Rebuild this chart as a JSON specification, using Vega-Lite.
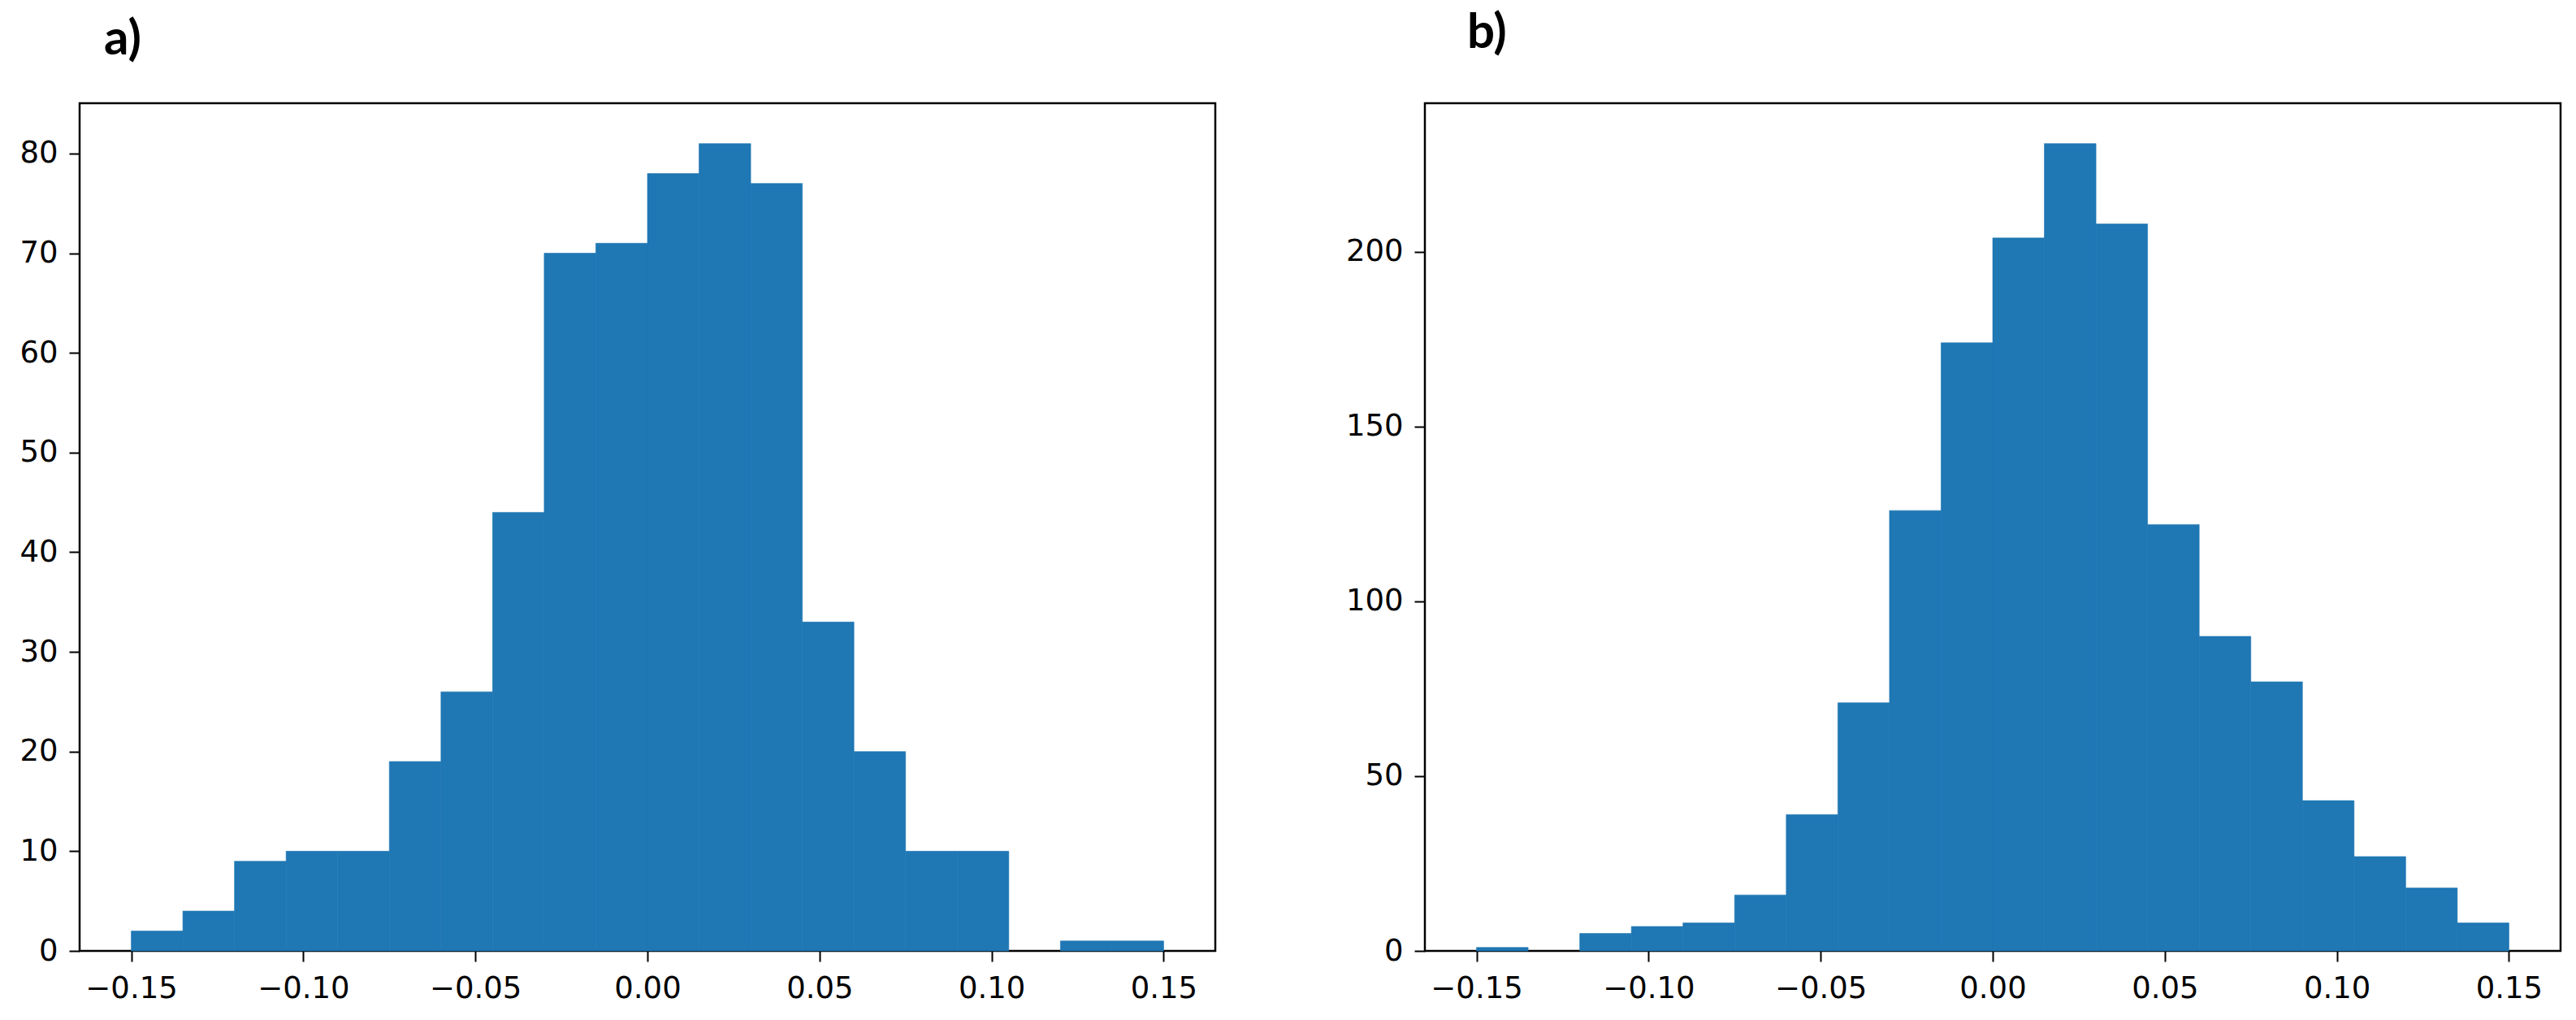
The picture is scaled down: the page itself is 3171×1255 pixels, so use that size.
{
  "$schema": "https://vega.github.io/schema/vega-lite/v6.json",
  "padding": {"left": 22, "top": 9, "right": 21, "bottom": 10},
  "background": "white",
  "bounds": "flush",
  "spacing": 258,
  "config": {
    "view": {"stroke": "#000000", "strokeWidth": 2.5},
    "axis": {
      "domain": false,
      "grid": false,
      "ticks": true,
      "tickColor": "#000000",
      "tickWidth": 2,
      "tickSize": 13,
      "labelFont": "DejaVu Sans",
      "labelFontSize": 37,
      "labelColor": "#000000",
      "title": null
    },
    "axisX": {"labelPadding": 15},
    "axisY": {"labelPadding": 14},
    "title": {"font": "Lato", "fontWeight": "bold", "fontSize": 60, "color": "#000000", "anchor": "start", "frame": "group", "baseline": "alphabetic"}
  },
  "hconcat": [
    {
      "width": 1398,
      "height": 1043,
      "title": {"text": "a)", "dx": 30, "offset": 47},
      "data": {"values": [
        {"bin_start": -0.150, "bin_end": -0.135, "count": 2},
        {"bin_start": -0.135, "bin_end": -0.120, "count": 4},
        {"bin_start": -0.120, "bin_end": -0.105, "count": 9},
        {"bin_start": -0.105, "bin_end": -0.090, "count": 10},
        {"bin_start": -0.090, "bin_end": -0.075, "count": 10},
        {"bin_start": -0.075, "bin_end": -0.060, "count": 19},
        {"bin_start": -0.060, "bin_end": -0.045, "count": 26},
        {"bin_start": -0.045, "bin_end": -0.030, "count": 44},
        {"bin_start": -0.030, "bin_end": -0.015, "count": 70},
        {"bin_start": -0.015, "bin_end": 0.000, "count": 71},
        {"bin_start": 0.000, "bin_end": 0.015, "count": 78},
        {"bin_start": 0.015, "bin_end": 0.030, "count": 81},
        {"bin_start": 0.030, "bin_end": 0.045, "count": 77},
        {"bin_start": 0.045, "bin_end": 0.060, "count": 33},
        {"bin_start": 0.060, "bin_end": 0.075, "count": 20},
        {"bin_start": 0.075, "bin_end": 0.090, "count": 10},
        {"bin_start": 0.090, "bin_end": 0.105, "count": 10},
        {"bin_start": 0.105, "bin_end": 0.120, "count": 0},
        {"bin_start": 0.120, "bin_end": 0.135, "count": 1},
        {"bin_start": 0.135, "bin_end": 0.150, "count": 1}
      ]},
      "mark": {"type": "bar", "color": "#1f77b4", "stroke": "#1f77b4", "strokeWidth": 0.6},
      "encoding": {
        "x": {"field": "bin_start", "type": "quantitative", "scale": {"domain": [-0.165, 0.165], "nice": false, "zero": false}, "axis": {"values": [-0.15, -0.1, -0.05, 0, 0.05, 0.1, 0.15], "format": ".2f"}},
        "x2": {"field": "bin_end"},
        "y": {"field": "count", "type": "quantitative", "scale": {"domain": [0, 85.05], "nice": false}, "axis": {"values": [0, 10, 20, 30, 40, 50, 60, 70, 80]}},
        "y2": {"datum": 0},
        "strokeOpacity": {"condition": {"test": "datum.count > 0", "value": 1}, "value": 0}
      }
    },
    {
      "width": 1398,
      "height": 1043,
      "title": {"text": "b)", "dx": 52, "offset": 55},
      "data": {"values": [
        {"bin_start": -0.150, "bin_end": -0.135, "count": 1},
        {"bin_start": -0.135, "bin_end": -0.120, "count": 0},
        {"bin_start": -0.120, "bin_end": -0.105, "count": 5},
        {"bin_start": -0.105, "bin_end": -0.090, "count": 7},
        {"bin_start": -0.090, "bin_end": -0.075, "count": 8},
        {"bin_start": -0.075, "bin_end": -0.060, "count": 16},
        {"bin_start": -0.060, "bin_end": -0.045, "count": 39},
        {"bin_start": -0.045, "bin_end": -0.030, "count": 71},
        {"bin_start": -0.030, "bin_end": -0.015, "count": 126},
        {"bin_start": -0.015, "bin_end": 0.000, "count": 174},
        {"bin_start": 0.000, "bin_end": 0.015, "count": 204},
        {"bin_start": 0.015, "bin_end": 0.030, "count": 231},
        {"bin_start": 0.030, "bin_end": 0.045, "count": 208},
        {"bin_start": 0.045, "bin_end": 0.060, "count": 122},
        {"bin_start": 0.060, "bin_end": 0.075, "count": 90},
        {"bin_start": 0.075, "bin_end": 0.090, "count": 77},
        {"bin_start": 0.090, "bin_end": 0.105, "count": 43},
        {"bin_start": 0.105, "bin_end": 0.120, "count": 27},
        {"bin_start": 0.120, "bin_end": 0.135, "count": 18},
        {"bin_start": 0.135, "bin_end": 0.150, "count": 8}
      ]},
      "mark": {"type": "bar", "color": "#1f77b4", "stroke": "#1f77b4", "strokeWidth": 0.6},
      "encoding": {
        "x": {"field": "bin_start", "type": "quantitative", "scale": {"domain": [-0.165, 0.165], "nice": false, "zero": false}, "axis": {"values": [-0.15, -0.1, -0.05, 0, 0.05, 0.1, 0.15], "format": ".2f"}},
        "x2": {"field": "bin_end"},
        "y": {"field": "count", "type": "quantitative", "scale": {"domain": [0, 242.55], "nice": false}, "axis": {"values": [0, 50, 100, 150, 200]}},
        "y2": {"datum": 0},
        "strokeOpacity": {"condition": {"test": "datum.count > 0", "value": 1}, "value": 0}
      }
    }
  ]
}
